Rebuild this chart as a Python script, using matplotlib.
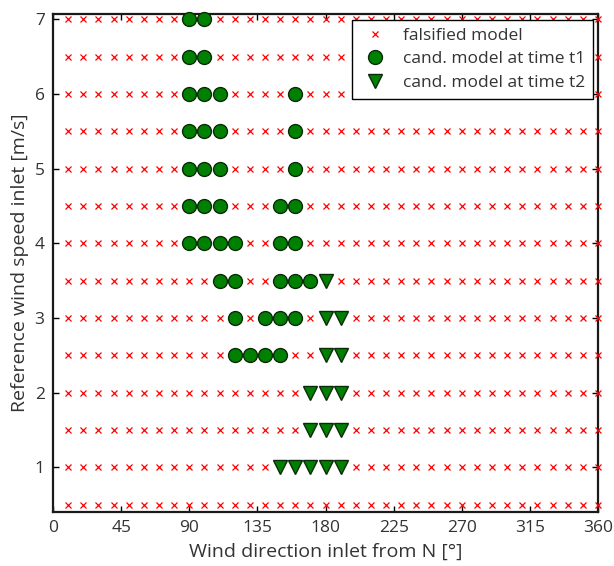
import numpy as np
import matplotlib
matplotlib.use("Agg")
import matplotlib.pyplot as plt

# Grid of tested models
directions = list(range(10, 361, 10))          # deg
speeds = [0.5, 1, 1.5, 2, 2.5, 3, 3.5, 4, 4.5, 5, 5.5, 6, 6.5, 7]  # m/s

# Candidate models at time t1 (direction, speed)
t1_dir = [90, 100,
          90, 100,
          90, 100, 110, 160,
          90, 100, 110, 160,
          90, 100, 110, 160,
          90, 100, 110, 150, 160,
          90, 100, 110, 120, 150, 160,
          110, 120, 150, 160, 170,
          120, 140, 150, 160,
          120, 130, 140, 150]
t1_spd = [7, 7,
          6.5, 6.5,
          6, 6, 6, 6,
          5.5, 5.5, 5.5, 5.5,
          5, 5, 5, 5,
          4.5, 4.5, 4.5, 4.5, 4.5,
          4, 4, 4, 4, 4, 4,
          3.5, 3.5, 3.5, 3.5, 3.5,
          3, 3, 3, 3,
          2.5, 2.5, 2.5, 2.5]

# Candidate models at time t2
t2_dir = [180,
          180, 190,
          180, 190,
          170, 180, 190,
          170, 180, 190,
          150, 160, 170, 180, 190]
t2_spd = [3.5,
          3, 3,
          2.5, 2.5,
          2, 2, 2,
          1.5, 1.5, 1.5,
          1, 1, 1, 1, 1]

xticks = [0, 45, 90, 135, 180, 225, 270, 315, 360]
yticks = [1, 2, 3, 4, 5, 6, 7]

cand = set(zip(t1_dir, t1_spd)) | set(zip(t2_dir, t2_spd))
f_dir, f_spd = [], []
for s in speeds:
    for d in directions:
        if (d, s) not in cand:
            f_dir.append(d)
            f_spd.append(s)

plt.rcParams['font.family'] = ['Open Sans', 'DejaVu Sans']
text_col = '#333333'

fig = plt.figure(figsize=(6.14, 5.66), dpi=100)
ax = fig.add_axes([53/614, 1-512/566, (598-53)/614, (512-14)/566])

ax.plot(f_dir, f_spd, linestyle='none', marker='x', color='#ff0000',
        markersize=5, markeredgewidth=0.9, label='falsified model', clip_on=False, zorder=3)
ax.plot(t1_dir, t1_spd, linestyle='none', marker='o', markerfacecolor='#008000',
        markeredgecolor='#0a2a0a', markersize=10, markeredgewidth=1.0,
        label='cand. model at time t1', zorder=4, clip_on=False)
ax.plot(t2_dir, t2_spd, linestyle='none', marker='v', markerfacecolor='#008000',
        markeredgecolor='#0a2a0a', markersize=10, markeredgewidth=1.0,
        label='cand. model at time t2', zorder=4, clip_on=False)

ax.set_xlim(0, 360)
ax.set_ylim(0.4, 7.07)
ax.set_xticks(xticks)
ax.set_yticks(yticks)
ax.tick_params(direction='in', length=4, width=1, top=True, right=True,
               labelsize=12.5, labelcolor=text_col, pad=6)
for sp in ax.spines.values():
    sp.set_linewidth(1.6)
    sp.set_color('#1a1a1a')

ax.set_xlabel('Wind direction inlet from N [°]', fontsize=14, color=text_col, labelpad=5)
ax.set_ylabel('Reference wind speed inlet [m/s]', fontsize=14, color=text_col, labelpad=4)

leg = ax.legend(loc='upper right', bbox_to_anchor=(593/614, 1-20/566), bbox_transform=fig.transFigure,
                fontsize=12.5, frameon=True, fancybox=False, framealpha=1,
                edgecolor='black', borderpad=0.45, labelspacing=0.42, handletextpad=0.7,
                handlelength=1.8, borderaxespad=0)
leg.get_frame().set_linewidth(1.0)
for t in leg.get_texts():
    t.set_color(text_col)

fig.savefig('out.png', dpi=100)
